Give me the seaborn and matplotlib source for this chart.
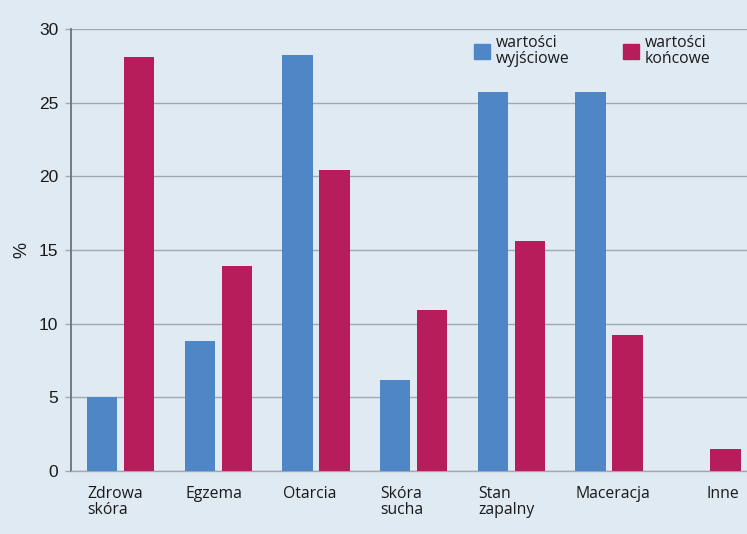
import matplotlib
matplotlib.use("Agg")
import matplotlib.pyplot as plt
import matplotlib.transforms as mtransforms
import seaborn as sns
import pandas as pd

categories = ["Zdrowa\nskóra", "Egzema", "Otarcia", "Skóra\nsucha", "Stan\nzapalny", "Maceracja", "Inne"]
baseline = [5.0, 8.8, 28.2, 6.2, 25.7, 25.7, 0.0]
final = [28.1, 13.9, 20.4, 10.9, 15.6, 9.2, 1.5]
series_names = ["wartości\nwyjściowe", "wartości\nkońcowe"]
yticks = [0, 5, 10, 15, 20, 25, 30]

bg = "#dfeaf2"
blue = "#4e86c6"
red = "#b71d5a"
grid_c = "#a2a8ae"
txt = "#1a1a1a"

df = pd.DataFrame({
    "kategoria": categories * 2,
    "wartosc": baseline + final,
    "seria": [series_names[0]] * len(categories) + [series_names[1]] * len(categories),
})

sns.set_theme(style="white")
plt.rcParams["font.family"] = ["Open Sans", "DejaVu Sans"]

fig = plt.figure(figsize=(7.47, 5.34), dpi=100, facecolor=bg)
ax = fig.add_axes([0.095, 0.118, 0.905, 0.828])
ax.set_facecolor(bg)

sns.barplot(data=df, x="kategoria", y="wartosc", hue="seria",
            palette=[blue, red], width=0.757, gap=0.176,
            saturation=1, ax=ax, legend=False, linewidth=0, edgecolor="none", zorder=3)

ax.set_ylim(0, 30)
ax.set_xlim(-0.507, 6.41)
ax.set_yticks(yticks)
ax.set_yticklabels([str(t) for t in yticks], family="Liberation Sans", fontsize=12.5, color=txt)
ax.yaxis.grid(True, color=grid_c, linewidth=1.0, zorder=0)
ax.set_axisbelow(True)
ax.tick_params(axis="y", length=4, width=1, color=grid_c, pad=5, left=True)
ax.tick_params(axis="x", length=0)

for s in ["top", "right"]:
    ax.spines[s].set_visible(False)
ax.spines["left"].set_color("#6d7277")
ax.spines["left"].set_linewidth(1.3)
ax.spines["bottom"].set_color(grid_c)
ax.spines["bottom"].set_linewidth(1.0)

# category labels, left-aligned under each group
ax.set_xticks(range(len(categories)))
ax.set_xticklabels([])
ax.set_xlabel("")
for i, lab in enumerate(categories):
    off = 0.0 if lab == "Inne" else -0.34
    ax.text(i + off, -0.033, lab, transform=mtransforms.blended_transform_factory(ax.transData, ax.transAxes),
            ha="left", va="top", fontsize=11.3, color=txt, linespacing=1.05)

ax.set_ylabel("%", family="Liberation Sans", fontsize=13, color=txt, labelpad=6)

handles = [plt.Rectangle((0, 0), 1, 1, color=blue), plt.Rectangle((0, 0), 1, 1, color=red)]
leg = ax.legend(handles, series_names, ncol=2, frameon=False, loc="upper left",
                bbox_to_anchor=(0.575, 1.018), fontsize=11.3, handlelength=1.05, handleheight=1.05,
                handletextpad=0.35, columnspacing=3.4, labelspacing=0.2)
for t in leg.get_texts():
    t.set_color(txt)
    t.set_linespacing(1.0)

fig.savefig("out.png", dpi=100, facecolor=bg)
